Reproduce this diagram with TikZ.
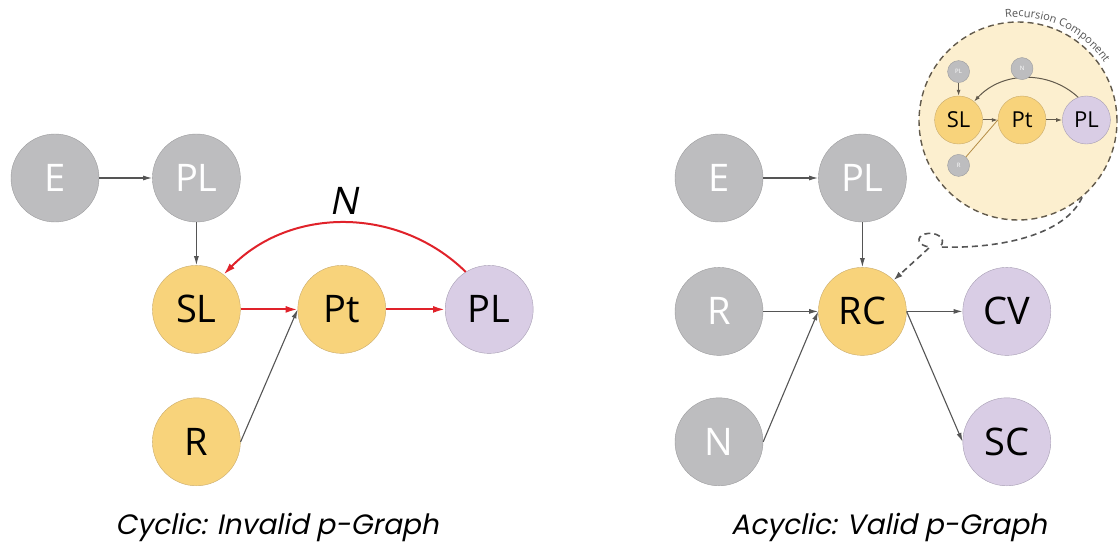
\documentclass[tikz,border=0pt]{standalone}
\usepackage{fontspec}
\setmainfont{Open Sans}
\newfontfamily\capfont[FakeSlant=0.2]{Poppins}
\newfontfamily\slfont[FakeSlant=0.2]{Open Sans}
\usepackage{xcolor}
\usetikzlibrary{positioning, arrows.meta, decorations.text}

\definecolor{grayfill}{HTML}{BDBDBF}
\definecolor{grayline}{HTML}{9C9C9E}
\definecolor{goldfill}{HTML}{F8D37B}
\definecolor{goldline}{HTML}{C9AB6C}
\definecolor{lilacfill}{HTML}{D9CDE5}
\definecolor{lilacline}{HTML}{A79EB3}
\definecolor{linkgray}{HTML}{555555}
\definecolor{cyclered}{HTML}{E0222A}
\definecolor{compfill}{HTML}{FCEFCF}
\definecolor{compline}{HTML}{625A4C}
\definecolor{tanline}{HTML}{B48C45}

\begin{document}
\begin{tikzpicture}[
  x=1pt, y=1pt,
  base/.style={circle, minimum size=88pt, inner sep=0pt, font=\fontsize{38}{38}\selectfont},
  gnode/.style={base, fill=grayfill, draw=grayline, text=white},
  ynode/.style={base, fill=goldfill, draw=goldline},
  pnode/.style={base, fill=lilacfill, draw=lilacline},
  mbase/.style={circle, minimum size=48pt, inner sep=0pt, font=\fontsize{22}{22}\selectfont},
  mynode/.style={mbase, fill=goldfill, draw=goldline},
  mpnode/.style={mbase, fill=lilacfill, draw=lilacline},
  mgnode/.style={circle, minimum size=22pt, inner sep=0pt, fill=grayfill, draw=grayline, text=white, font=\fontsize{6}{6}\selectfont},
  link/.style={draw=linkgray, line width=1.1pt, -{Latex[length=9pt,width=5pt]}},
  redlink/.style={draw=cyclered, line width=2pt, -{Latex[length=12pt,width=7pt]}},
  mlink/.style={draw=compline, line width=1pt, -{Latex[length=6pt,width=4pt]}},
  dashlink/.style={draw=linkgray, line width=1.6pt, dash pattern=on 6pt off 4pt, -{Latex[length=9pt,width=6pt]}},
  caption/.style={font=\capfont\fontsize{28}{28}\selectfont}
  ]
\useasboundingbox (0,0) rectangle (1119,-548);

% Cyclic graph
\node[gnode] (E) at (55,-178) {E};
\node[gnode, right=53pt of E] (PL) {PL};
\node[ynode, below=43pt of PL] (SL) {SL};
\node[ynode, right=57pt of SL] (Pt) {Pt};
\node[pnode, right=59pt of Pt] (PLc) {PL};
\node[ynode, below=44pt of SL] (R) {R};

\draw[link] (E) -- (PL);
\draw[link] (PL) -- (SL);
\draw[link] (R.east) -- (Pt.west);
\draw[redlink] (SL) -- (Pt);
\draw[redlink] (Pt) -- (PLc);
\draw[redlink] (PLc.122) to[bend right=45]
  node[above=4pt, font=\slfont\fontsize{38}{38}\selectfont] {N} (SL.52);

% Acyclic graph
\node[gnode] (aE) at (719,-178) {E};
\node[gnode, right=55pt of aE] (aPL) {PL};
\node[ynode, below=45pt of aPL] (RC) {RC};
\node[gnode, left=55pt of RC] (aR) {R};
\node[pnode, right=56pt of RC] (CV) {CV};
\node[gnode, below=42pt of aR] (aN) {N};
\node[pnode, below=42pt of CV] (SC) {SC};

\draw[link] (aE) -- (aPL);
\draw[link] (aPL) -- (RC);
\draw[link] (aR) -- (RC);
\draw[link] (aN.east) -- (RC.west);
\draw[link] (RC) -- (CV);
\draw[link] (RC.east) -- (SC.west);

% Recursion component
\node[circle, minimum size=198pt, fill=compfill, draw=compline, line width=1.4pt,
  dash pattern=on 6pt off 4pt] (rcomp) at (1018,-121) {};
\path[decorate, decoration={text along path, text align=left,
  text={|\fontsize{11}{11}\selectfont\color{linkgray}|Recursion Component}}]
  (rcomp.center) ++(97:104pt) arc[start angle=97, end angle=10, radius=104pt];
\node[mynode] (mPt) at (1022,-120) {Pt};
\node[mynode, left=15pt of mPt] (mSL) {SL};
\node[mpnode, right=16pt of mPt] (mPL) {PL};
\node[mgnode, above=13pt of mSL] (mpl) {PL};
\node[mgnode, below=10pt of mSL] (mR) {R};

\draw[mlink] (mpl) -- (mSL);
\draw[mlink] (mSL) -- (mPt);
\draw[mlink] (mPt) -- (mPL);
\draw[draw=tanline, line width=0.8pt] (mR) -- (mPt.west);
\draw[mlink] (mPL.110) to[bend right=45] (mSL.50);
\node[mgnode, above=16pt of mPt] (mN) {N};

\draw[dashlink] (rcomp.-50) .. controls (1065,-235) and (1000,-249) .. (940,-247)
  .. controls (948,-238) and (935,-231) .. (925,-234)
  .. controls (915,-237) and (918,-246) .. (930,-247) -- (RC.45);

% Captions
\node[caption] (capL) at (277,-527) {Cyclic: Invalid p-Graph};
\node[caption] (capR) at (889,-527) {Acyclic: Valid p-Graph};

\end{tikzpicture}
\end{document}
